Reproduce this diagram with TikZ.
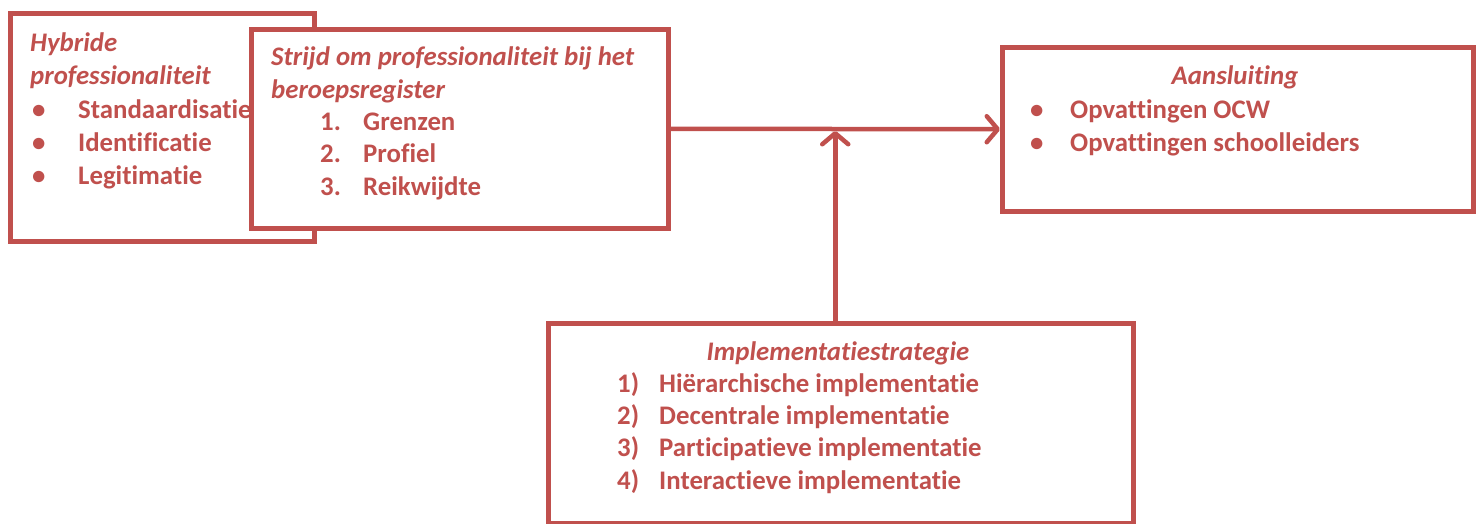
\documentclass[tikz,border=0pt]{standalone}
\usepackage{fontspec}
\setmainfont{Carlito}[Ligatures=NoCommon]
\usetikzlibrary{arrows.meta,positioning,calc}
\definecolor{accentred}{HTML}{C0504D}

\begin{document}
\begin{tikzpicture}[
    x=1pt, y=-1pt,
    frame/.style={draw=accentred, line width=4.5pt, fill=white, inner sep=0pt, anchor=north west},
    boxtext/.style={text=accentred, font=\fontsize{26.8}{32.3}\selectfont\bfseries, align=left, inner sep=0pt, anchor=base west},
    boxhead/.style={boxtext, anchor=base},
    conn/.style={draw=accentred, line width=4.5pt},
    >={Straight Barb[length=11pt, width=26pt, line width=4.5pt, round]}
  ]
  \useasboundingbox (0,0) rectangle (1476,523);

  % Left: hybrid professionalism (placed by its last line)
  \node[frame, minimum width=304pt, minimum height=228pt] (hybride) at (8,11) {};
  \node[boxtext, font=\fontsize{26.8}{33}\selectfont\bfseries] (hybtxt) at (30,184)
    {\textit{Hybride}\\
     \textit{professionaliteit}\\[1pt]
     \hspace*{2pt}\makebox[46pt][l]{\textbullet}Standaardisatie\\
     \hspace*{2pt}\makebox[46pt][l]{\textbullet}Identificatie\\
     \hspace*{2pt}\makebox[46pt][l]{\textbullet}Legitimatie};

  % Register box (on top)
  \node[frame, minimum width=417pt, minimum height=199pt] (strijd) at (249,27) {};
  \node[boxtext] (strijdtxt) at (271,195)
    {\textit{Strijd om professionaliteit bij het}\\
     \textit{beroepsregister}\\
     \hspace*{49pt}\makebox[43pt][l]{1.}Grenzen\\
     \hspace*{49pt}\makebox[43pt][l]{2.}Profiel\\
     \hspace*{49pt}\makebox[43pt][l]{3.}Reikwijdte};

  % Right: connection
  \node[frame, minimum width=471pt, minimum height=164pt] (aansluiting) at (1000,45) {};
  \node[boxhead] (aanshead) at (1235,84) {\textit{Aansluiting}};
  \node[boxtext] (aanstxt) at (1030,151)
    {\makebox[40pt][l]{\textbullet}Opvattingen OCW\\
     \makebox[40pt][l]{\textbullet}Opvattingen schoolleiders};

  % Bottom: implementation strategy
  \node[frame, minimum width=585pt, minimum height=200pt] (impl) at (546,321) {};
  \node[boxhead] (implhead) at (838,360) {\textit{Implementatiestrategie}};
  \node[boxtext] (impltxt) at (617,489)
    {\makebox[42pt][l]{1)}Hiërarchische implementatie\\
     \makebox[42pt][l]{2)}Decentrale implementatie\\
     \makebox[42pt][l]{3)}Participatieve implementatie\\
     \makebox[42pt][l]{4)}Interactieve implementatie};

  % Connectors
  \coordinate (meet) at ($(strijd.east)!0.5!(aansluiting.west)$);
  \draw[conn, ->] (strijd.east) -- (aansluiting.west);
  \draw[conn, ->, shorten >=2pt] (impl.north -| meet) -- (meet);
\end{tikzpicture}
\end{document}
